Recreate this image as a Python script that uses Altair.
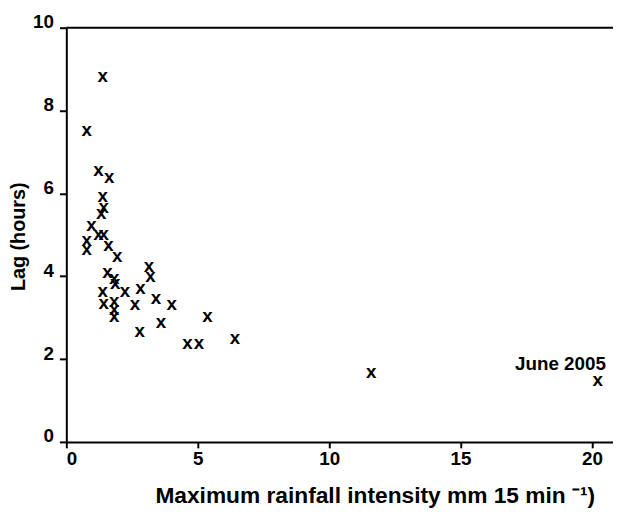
import altair as alt
import pandas as pd

intensity = [1.38, 0.78, 1.22, 1.63, 1.38, 1.42, 1.33, 0.96, 1.22, 1.42, 0.78, 0.78,
             1.60, 1.94, 1.57, 1.82, 1.86, 3.14, 3.20, 1.38, 2.23, 2.82, 1.42, 1.82,
             1.82, 1.82, 2.61, 3.41, 4.01, 3.60, 2.79, 5.37, 4.61, 5.05, 6.42, 11.6, 20.22]
lag = [8.80, 7.50, 6.54, 6.37, 5.91, 5.65, 5.51, 5.22, 5.00, 5.00, 4.86, 4.62,
       4.74, 4.46, 4.08, 3.94, 3.82, 4.22, 3.98, 3.62, 3.62, 3.70, 3.33, 3.38,
       3.18, 3.01, 3.30, 3.46, 3.30, 2.87, 2.65, 3.02, 2.37, 2.37, 2.49, 1.67, 1.46]

note_text = ["June 2005"]
note_x = [18.8]
note_y = [1.87]

x_ticks = [0, 5, 10, 15, 20]
y_ticks = [0, 2, 4, 6, 8, 10]

FONT = "Liberation Sans"

df = pd.DataFrame({"intensity": intensity, "lag": lag})
notes = pd.DataFrame({"x": note_x, "y": note_y, "t": note_text})

x_scale = alt.Scale(domain=[0, 20.8], nice=False, zero=False)
y_scale = alt.Scale(domain=[0, 10], nice=False)

x_axis = alt.Axis(
    values=x_ticks, title="Maximum rainfall intensity mm 15 min \u207b\u00b9)",
    grid=False, domainColor="black", domainWidth=2, tickColor="black", tickWidth=2,
    tickSize=6, labelFont=FONT, labelFontSize=19, labelFontWeight="bold",
    labelColor="black", labelPadding=2, titleFont=FONT, titleFontSize=23,
    titleFontWeight="bold", titleColor="black", titleX=312, titleY=54,
    titleBaseline="middle", titleAlign="center",
)
y_axis = alt.Axis(
    values=y_ticks, title="Lag (hours)", grid=False, domainColor="black",
    domainWidth=2, tickColor="black", tickWidth=2, tickSize=7, labelFont=FONT,
    labelFontSize=19, labelFontWeight="bold", labelColor="black", labelPadding=6,
    labelBaseline="alphabetic", titleFont=FONT, titleFontSize=20,
    titleFontWeight="bold", titleColor="black", titleX=-48, titleY=211,
    titleBaseline="middle", titleAlign="center", titleAngle=-90,
)

points = alt.Chart(df).mark_text(
    text="x", font=FONT, fontSize=19, fontWeight="bold", baseline="alphabetic",
    dy=5, color="black",
).encode(
    x=alt.X("intensity:Q", scale=x_scale, axis=x_axis),
    y=alt.Y("lag:Q", scale=y_scale, axis=y_axis),
)

top_line = alt.Chart(pd.DataFrame({"y": [10]})).mark_rule(
    color="black", strokeWidth=2
).encode(y=alt.Y("y:Q", scale=y_scale))

note = alt.Chart(notes).mark_text(
    font=FONT, fontSize=19, fontWeight="bold", baseline="middle", align="center",
    color="black",
).encode(
    x=alt.X("x:Q", scale=x_scale), y=alt.Y("y:Q", scale=y_scale), text="t:N"
)

chart = alt.layer(points, top_line, note).properties(
    width=553, height=419,
    autosize=alt.AutoSizeParams(type="none"),
    padding={"left": 59, "top": 17, "right": 0, "bottom": 70},
).configure_view(stroke=None)

chart.save("out.html", embed_options={"renderer": "svg", "actions": False})
